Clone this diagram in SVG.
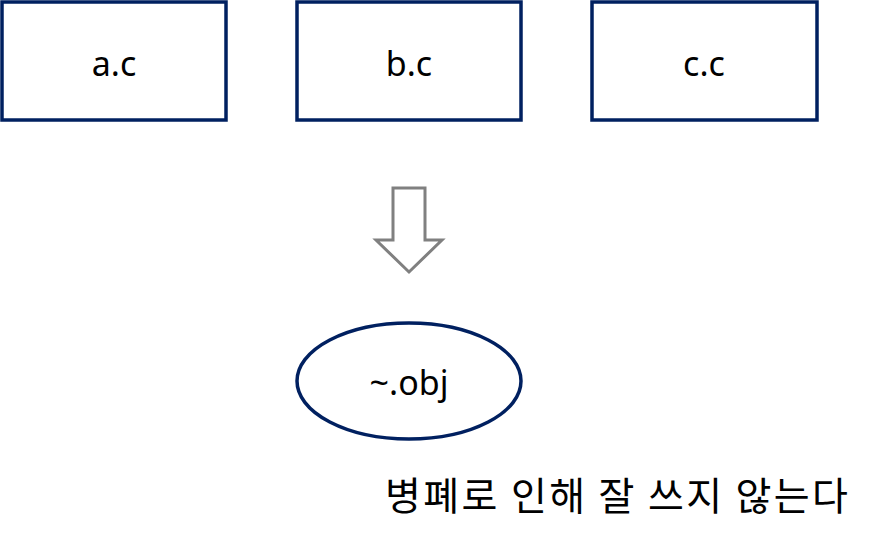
<svg xmlns="http://www.w3.org/2000/svg" width="873" height="539" viewBox="0 0 873 539">
<style>
.box{fill:#fff;stroke:#002060;stroke-width:3.5}
.lbl{font-family:"Noto Sans","Open Sans",sans-serif;font-size:34px;fill:#000;text-anchor:middle}
.kr{font-family:"Noto Sans CJK KR","Noto Sans",sans-serif;font-size:39px;fill:#000}
</style>
<rect width="873" height="539" fill="#fff"/>
<g id="a_c"><rect class="box" x="2" y="2" width="224" height="118"/><text class="lbl" x="114" y="76">a.c</text></g>
<g id="b_c"><rect class="box" x="297" y="2" width="224" height="118"/><text class="lbl" x="409" y="76">b.c</text></g>
<g id="c_c"><rect class="box" x="592" y="2" width="225" height="118"/><text class="lbl" x="704" y="76">c.c</text></g>
<g id="connectors"><polygon points="393,188 425,188 425,240 442,240 409,272 376,240 393,240" fill="#fff" stroke="#808080" stroke-width="3"/></g>
<g id="obj"><ellipse cx="409" cy="381" rx="112" ry="58" fill="#fff" stroke="#002060" stroke-width="3.5"/><text class="lbl" x="409" y="395">~.obj</text></g>
<text class="kr" x="385" y="510" textLength="463" lengthAdjust="spacing">병폐로 인해 잘 쓰지 않는다</text>
</svg>
